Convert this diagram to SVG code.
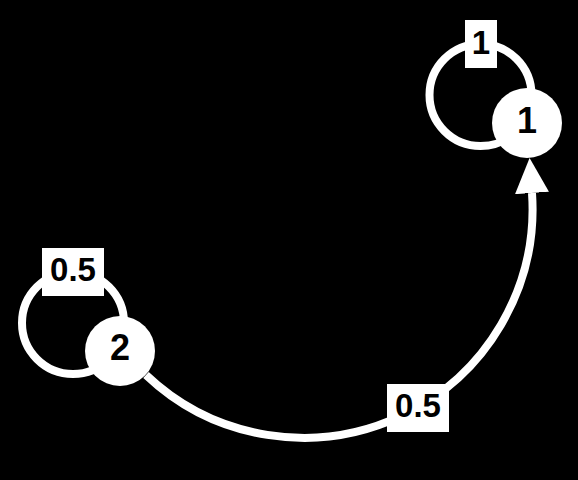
<svg xmlns="http://www.w3.org/2000/svg" width="578" height="480" viewBox="0 0 578 480">
<defs>
<style>
.edge{fill:none;stroke:#fff;stroke-width:8}
.node{fill:#fff}
.lbox{fill:#fff}
.ntext{font-family:"Liberation Sans",Arial,sans-serif;font-weight:bold;font-size:36px;fill:#000;text-anchor:middle}
.ltext{font-family:"Liberation Sans",Arial,sans-serif;font-weight:bold;font-size:33px;fill:#000;text-anchor:middle}
</style>
<marker id="arrow" markerUnits="userSpaceOnUse" markerWidth="36" markerHeight="36" viewBox="0 -18 36 36" refX="0" refY="0" orient="auto">
<path d="M0,-17 L35,0 L0,17 Z" fill="#fff"/>
</marker>
</defs>
<rect x="0" y="0" width="578" height="480" fill="#000"/>
<g id="connectors">
<circle class="edge" cx="480.5" cy="95" r="51"/>
<circle class="edge" cx="73" cy="323" r="51"/>
<path class="edge" d="M146,375 A229,229 0 0 0 532,193" marker-end="url(#arrow)"/>
<g id="label-1-1">
<rect class="lbox" x="465" y="20" width="32" height="48"/>
<text class="ltext" x="481" y="54">1</text>
</g>
<g id="label-2-2">
<rect class="lbox" x="42" y="248" width="62" height="48"/>
<text class="ltext" x="73" y="281">0.5</text>
</g>
<g id="label-2-1">
<rect class="lbox" x="387" y="384" width="62" height="48"/>
<text class="ltext" x="418" y="417">0.5</text>
</g>
</g>
<g id="node-1">
<circle class="node" cx="527" cy="123" r="35"/>
<text class="ntext" x="527" y="133">1</text>
</g>
<g id="node-2">
<circle class="node" cx="120" cy="351" r="35"/>
<text class="ntext" x="120" y="360">2</text>
</g>
</svg>
